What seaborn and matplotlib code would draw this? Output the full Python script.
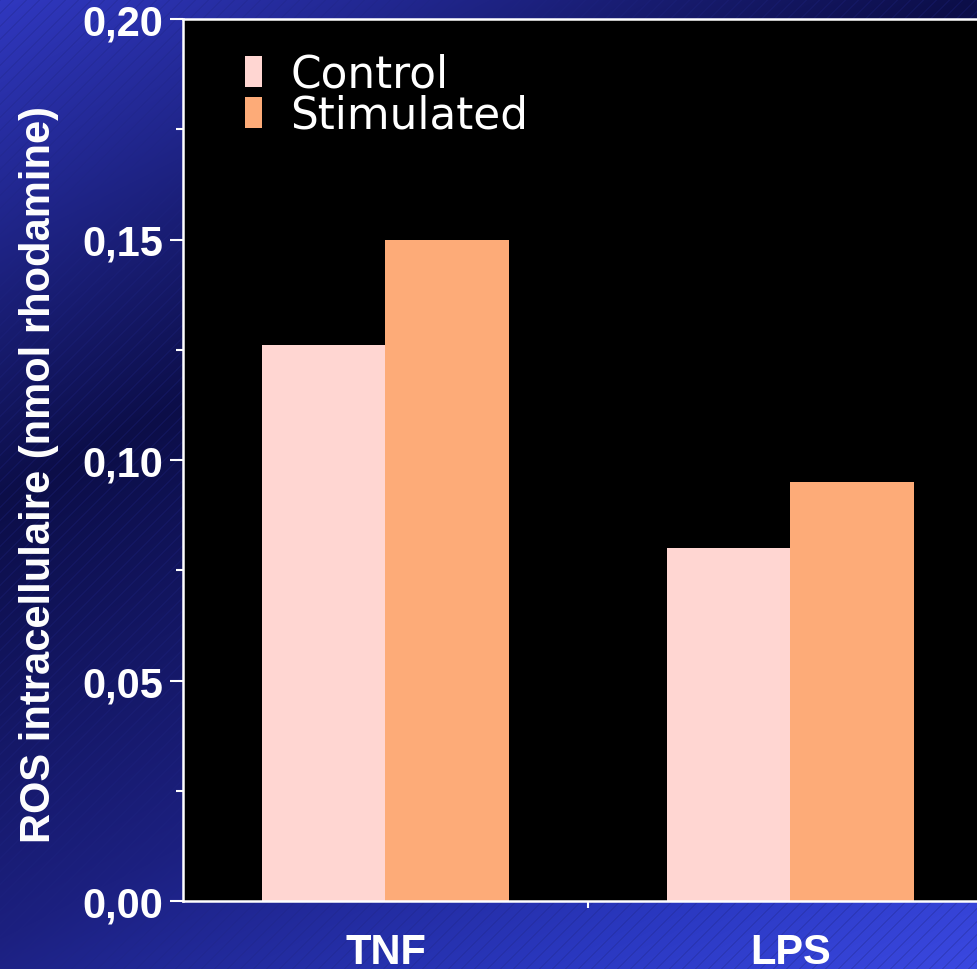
import numpy as np
import pandas as pd
import matplotlib
matplotlib.use("Agg")
import matplotlib.pyplot as plt
from matplotlib.ticker import FixedLocator
import seaborn as sns

# Intracellular ROS per treatment, control vs stimulated
treatments = ["TNF", "LPS"]
conditions = ["Control", "Stimulated"]
control_values = [0.126, 0.080]
stimulated_values = [0.150, 0.095]
y_ticks = [0.00, 0.05, 0.10, 0.15, 0.20]
y_tick_labels = ["0,00", "0,05", "0,10", "0,15", "0,20"]
y_minor_ticks = [0.025, 0.075, 0.125, 0.175]
bar_colors = ["#ffd6d2", "#fdab78"]
y_label = "ROS intracellulaire (nmol rhodamine)"

df = pd.DataFrame({
    "treatment": treatments * 2,
    "condition": [conditions[0]] * 2 + [conditions[1]] * 2,
    "value": control_values + stimulated_values,
})

sns.set_theme(style="white")
plt.rcParams["font.family"] = ["Liberation Sans", "DejaVu Sans"]

W, H = 978, 970
fig = plt.figure(figsize=(W / 100, H / 100), dpi=100)

# Slide-style blue gradient backdrop with faint diagonal hatching
yy, xx = np.mgrid[0:H, 0:W].astype(float)
t = 0.51 * xx + yy
stops_t = [0, 500, 940, 1250, 1460]
stops_c = np.array([[48, 56, 192], [12, 14, 72], [28, 32, 128],
                    [42, 56, 192], [58, 72, 224]]) / 255.0
bg = np.stack([np.interp(t, stops_t, stops_c[:, k]) for k in range(3)], axis=-1)
hatch = ((xx + yy) % 13) < 1.2
bg[hatch] = bg[hatch] * 0.75 + np.array([30, 36, 130]) / 255.0 * 0.25
ax_bg = fig.add_axes([0, 0, 1, 1], zorder=0)
ax_bg.imshow(bg, aspect="auto", interpolation="nearest")
ax_bg.axis("off")

# Plot area: left edge at 183 px, right edge just beyond the canvas
left, right, top, bottom = 183, 993, 20, 902
ax = fig.add_axes([left / W, (H - bottom) / H, (right - left) / W, (bottom - top) / H],
                  zorder=1)
ax.set_facecolor("black")

sns.barplot(data=df, x="treatment", y="value", hue="condition",
            palette=bar_colors, saturation=1, width=0.612, gap=0,
            errorbar=None, linewidth=0, ax=ax)

ax.set_xlim(-0.5, 1.5)
ax.set_ylim(0, 0.2)

ax.set_yticks(y_ticks)
ax.set_yticklabels(y_tick_labels)
ax.yaxis.set_minor_locator(FixedLocator(y_minor_ticks))
ax.xaxis.set_minor_locator(FixedLocator([0.5]))

ax.tick_params(axis="y", which="major", direction="out", length=9.4, width=1.5,
               color="white", labelcolor="white", labelsize=30, pad=5, left=True)
ax.tick_params(axis="y", which="minor", direction="out", length=5, width=1.5,
               color="white", left=True)
ax.tick_params(axis="x", which="major", length=0, labelcolor="white",
               labelsize=30, pad=22)
ax.tick_params(axis="x", which="minor", direction="out", length=5, width=1.5,
               color="white", bottom=True)
for lbl in ax.get_xticklabels() + ax.get_yticklabels():
    lbl.set_fontweight("bold")

ax.set_xlabel("")
ax.set_ylabel(y_label, color="white", fontsize=30, fontweight="bold")
ax.yaxis.set_label_coords((59 - left) / (right - left), 0.485)

for side in ["left", "bottom", "top"]:
    ax.spines[side].set_visible(True)
    ax.spines[side].set_color("white")
    ax.spines[side].set_linewidth(1.8)
ax.spines["right"].set_visible(False)

handles, labels = ax.get_legend_handles_labels()
leg = ax.legend(handles, labels, loc="upper left",
                bbox_to_anchor=(245 / W, 1 - 54 / H), bbox_transform=fig.transFigure,
                frameon=False, borderpad=0, borderaxespad=0,
                handlelength=0.39, handleheight=0.72, handletextpad=0.64,
                labelspacing=-0.05,
                prop={"family": "DejaVu Sans", "size": 31.5})
for txt in leg.get_texts():
    txt.set_color("white")

fig.savefig("out.png", dpi=100)
